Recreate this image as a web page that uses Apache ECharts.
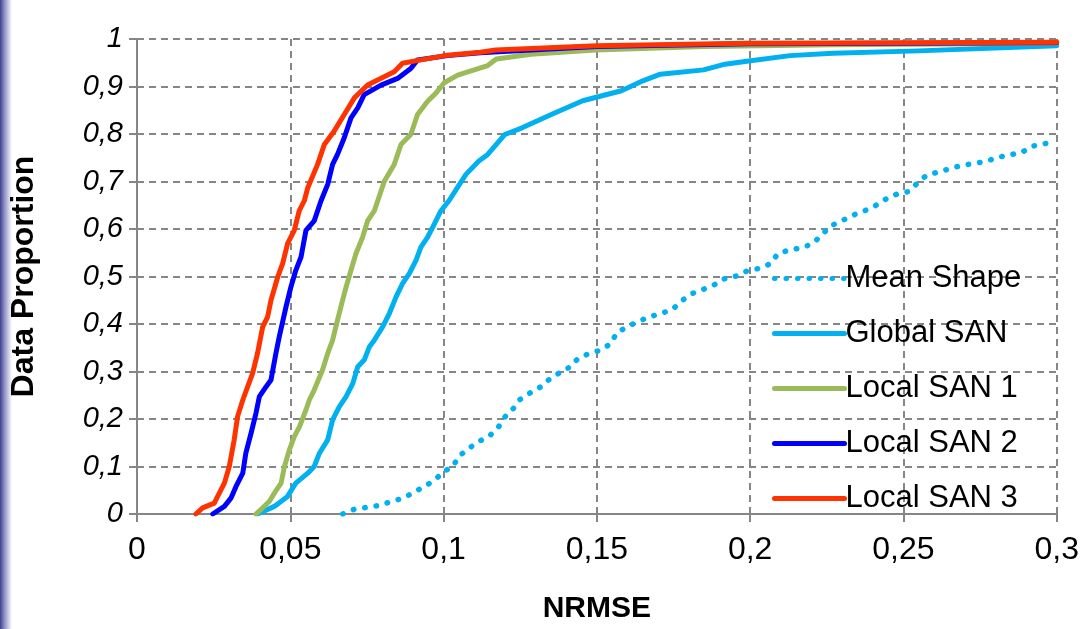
<!DOCTYPE html>
<html>
<head>
<meta charset="utf-8">
<script src="https://cdn.jsdelivr.net/npm/echarts@6/dist/echarts.min.js"></script>
<style>
  html, body { margin: 0; padding: 0; background: #fff; }
  #lineChart { width: 1082px; height: 629px; }
</style>
</head>
<body>
<div id="lineChart"></div>
<script>
// series names, legend order
var seriesNames = ['Mean Shape', 'Global SAN', 'Local SAN 1', 'Local SAN 2', 'Local SAN 3'];

// Mean Shape (dotted)
var meanX = [0.0671, 0.0709, 0.075, 0.079, 0.0828, 0.0866, 0.0902, 0.0936, 0.0971, 0.0997, 0.103, 0.1051, 0.1082, 0.1113, 0.1149, 0.1178, 0.1198, 0.1225, 0.1249, 0.128, 0.1315, 0.1342, 0.1375, 0.1411, 0.1438, 0.1475, 0.1513, 0.1546, 0.1564, 0.1598, 0.1634, 0.1671, 0.1709, 0.1747, 0.1777, 0.181, 0.1847, 0.1884, 0.1915, 0.1955, 0.1991, 0.2029, 0.2067, 0.209, 0.2128, 0.2167, 0.2203, 0.2233, 0.2261, 0.2298, 0.2335, 0.2372, 0.2408, 0.2443, 0.2477, 0.2518, 0.2546, 0.2575, 0.2614, 0.2652, 0.269, 0.2733, 0.2772, 0.2809, 0.2848, 0.2888, 0.2917, 0.2958, 0.2995];
var meanY = [0, 0.01, 0.014, 0.018, 0.026, 0.033, 0.045, 0.058, 0.071, 0.088, 0.1, 0.122, 0.138, 0.152, 0.164, 0.182, 0.203, 0.22, 0.241, 0.254, 0.267, 0.282, 0.296, 0.309, 0.327, 0.338, 0.345, 0.359, 0.381, 0.394, 0.405, 0.415, 0.422, 0.431, 0.449, 0.464, 0.473, 0.483, 0.495, 0.501, 0.512, 0.517, 0.527, 0.548, 0.556, 0.56, 0.569, 0.587, 0.606, 0.617, 0.629, 0.638, 0.649, 0.663, 0.673, 0.679, 0.697, 0.713, 0.72, 0.727, 0.734, 0.738, 0.743, 0.751, 0.756, 0.762, 0.774, 0.779, 0.785];

// Global SAN
var globalX = [0.0393, 0.0448, 0.0491, 0.0518, 0.0557, 0.0578, 0.0595, 0.0622, 0.0638, 0.066, 0.0682, 0.0704, 0.072, 0.0741, 0.0758, 0.0774, 0.0801, 0.0823, 0.0845, 0.0866, 0.0888, 0.091, 0.0926, 0.0948, 0.097, 0.0991, 0.1018, 0.1045, 0.1073, 0.1115, 0.1144, 0.12, 0.1256, 0.1355, 0.1454, 0.158, 0.165, 0.1707, 0.1848, 0.1918, 0.1989, 0.213, 0.227, 0.255, 0.3];
var globalY = [0, 0.016, 0.037, 0.065, 0.086, 0.1, 0.128, 0.156, 0.198, 0.226, 0.247, 0.275, 0.31, 0.324, 0.352, 0.366, 0.394, 0.422, 0.457, 0.485, 0.506, 0.534, 0.562, 0.583, 0.611, 0.638, 0.66, 0.687, 0.715, 0.743, 0.757, 0.799, 0.813, 0.842, 0.87, 0.891, 0.912, 0.926, 0.935, 0.947, 0.953, 0.965, 0.97, 0.975, 0.986];

// Local SAN 1
var local1X = [0.0388, 0.041, 0.0432, 0.0448, 0.047, 0.0481, 0.0497, 0.0513, 0.053, 0.0551, 0.0562, 0.0578, 0.0605, 0.0622, 0.0638, 0.0654, 0.0665, 0.0682, 0.0698, 0.0714, 0.0736, 0.0752, 0.0774, 0.0807, 0.0839, 0.0861, 0.0893, 0.0915, 0.0948, 0.0975, 0.1002, 0.1046, 0.11, 0.1144, 0.1172, 0.1285, 0.1496, 0.185, 0.227, 0.3];
var local1Y = [0, 0.013, 0.027, 0.044, 0.065, 0.1, 0.135, 0.163, 0.184, 0.219, 0.24, 0.261, 0.303, 0.338, 0.366, 0.408, 0.436, 0.478, 0.513, 0.548, 0.583, 0.617, 0.638, 0.701, 0.736, 0.778, 0.799, 0.841, 0.869, 0.886, 0.908, 0.924, 0.935, 0.944, 0.958, 0.968, 0.977, 0.984, 0.988, 0.991];

// Local SAN 2
var local2X = [0.0247, 0.0285, 0.0307, 0.0323, 0.0345, 0.0355, 0.0372, 0.0388, 0.0399, 0.0421, 0.0437, 0.0453, 0.0464, 0.0486, 0.0502, 0.0518, 0.0535, 0.0551, 0.0578, 0.06, 0.0622, 0.0638, 0.0654, 0.0676, 0.0698, 0.072, 0.0741, 0.0796, 0.085, 0.0893, 0.0915, 0.1013, 0.112, 0.15, 0.2, 0.25, 0.3];
var local2Y = [0, 0.016, 0.034, 0.058, 0.086, 0.128, 0.17, 0.212, 0.247, 0.268, 0.282, 0.338, 0.373, 0.436, 0.478, 0.513, 0.541, 0.597, 0.617, 0.659, 0.694, 0.736, 0.757, 0.792, 0.834, 0.855, 0.883, 0.903, 0.917, 0.938, 0.956, 0.965, 0.971, 0.984, 0.99, 0.991, 0.992];

// Local SAN 3
var local3X = [0.0192, 0.0214, 0.0252, 0.0263, 0.0285, 0.0301, 0.0317, 0.0328, 0.0345, 0.0361, 0.0377, 0.0393, 0.041, 0.0426, 0.0437, 0.0459, 0.0475, 0.0491, 0.0513, 0.0529, 0.0546, 0.0557, 0.0589, 0.0611, 0.0643, 0.0676, 0.0709, 0.0752, 0.0839, 0.0866, 0.0926, 0.1013, 0.112, 0.117, 0.15, 0.199, 0.25, 0.3];
var local3Y = [0, 0.013, 0.023, 0.037, 0.065, 0.1, 0.156, 0.205, 0.24, 0.268, 0.296, 0.338, 0.394, 0.415, 0.45, 0.499, 0.527, 0.569, 0.597, 0.638, 0.66, 0.687, 0.736, 0.778, 0.806, 0.841, 0.876, 0.903, 0.931, 0.949, 0.956, 0.966, 0.972, 0.977, 0.986, 0.991, 0.992, 0.993];

var seriesColors = ['#00b0f0', '#00b0f0', '#9bbb59', '#0000ff', '#ff3300'];

function zip(xs, ys) {
    var out = [];
    for (var i = 0; i < xs.length; i++) {
        out.push([xs[i], ys[i]]);
    }
    return out;
}

function comma(v) {
    return String(+v.toFixed(2)).replace('.', ',');
}

function lineSeries(idx, data, dotted) {
    return {
        name: seriesNames[idx],
        type: 'line',
        data: data,
        symbol: 'none',
        color: seriesColors[idx],
        lineStyle: {
            color: seriesColors[idx],
            width: dotted ? 5.5 : 5,
            type: dotted ? [0.5, 11] : 'solid',
            cap: 'round',
            join: 'round'
        },
        emphasis: { disabled: true },
        animation: false
    };
}

/**
 * NRMSE cumulative curves
 */
function drawline() {
    var lineChart = echarts.init(document.getElementById('lineChart'));
    var gridLine = { show: true, lineStyle: { color: '#868686', width: 2, type: [7, 5] } };
    var option = {
        backgroundColor: '#ffffff',
        textStyle: { fontFamily: 'Liberation Sans' },
        graphic: [{
            type: 'rect',
            left: 0,
            top: 0,
            shape: { width: 12, height: 629 },
            style: {
                fill: new echarts.graphic.LinearGradient(0, 0, 1, 0, [
                    { offset: 0, color: '#3f3f8f' },
                    { offset: 0.35, color: '#8c8cc4' },
                    { offset: 1, color: '#ffffff' }
                ])
            },
            z: -1
        }],
        grid: {
            left: 135,
            right: 24,
            top: 39,
            bottom: 115
        },
        legend: {
            orient: 'vertical',
            left: 767,
            top: 258,
            data: seriesNames,
            itemWidth: 70,
            itemHeight: 14,
            itemGap: 24,
            itemStyle: { opacity: 0 },
            lineStyle: { width: 5 },
            textStyle: {
                fontSize: 31,
                color: '#000',
                padding: [0, 0, 0, -4]
            },
            selectedMode: false
        },
        xAxis: {
            type: 'value',
            min: 0,
            max: 0.3,
            interval: 0.05,
            name: 'NRMSE',
            nameLocation: 'middle',
            nameGap: 80,
            nameTextStyle: { fontSize: 30, fontWeight: 'bold', color: '#000' },
            axisLine: { onZero: false, lineStyle: { color: '#868686', width: 2 } },
            axisTick: { show: true, length: 8, lineStyle: { color: '#868686', width: 2 } },
            axisLabel: {
                fontSize: 32,
                color: '#000',
                margin: 20,
                formatter: comma
            },
            splitLine: gridLine
        },
        yAxis: {
            type: 'value',
            min: 0,
            max: 1,
            interval: 0.1,
            name: 'Data Proportion',
            nameLocation: 'middle',
            nameGap: 97,
            nameTextStyle: { fontSize: 32, fontWeight: 'bold', color: '#000' },
            axisLine: { show: true, lineStyle: { color: '#868686', width: 2 } },
            axisTick: { show: true, length: 8, lineStyle: { color: '#868686', width: 2 } },
            axisLabel: {
                fontSize: 29,
                fontStyle: 'italic',
                color: '#000',
                margin: 14,
                formatter: comma
            },
            splitLine: gridLine
        },
        series: [
            lineSeries(0, zip(meanX, meanY), true),
            lineSeries(1, zip(globalX, globalY), false),
            lineSeries(2, zip(local1X, local1Y), false),
            lineSeries(3, zip(local2X, local2Y), false),
            lineSeries(4, zip(local3X, local3Y), false)
        ]
    };
    lineChart.setOption(option);
}

drawline();
</script>
</body>
</html>
